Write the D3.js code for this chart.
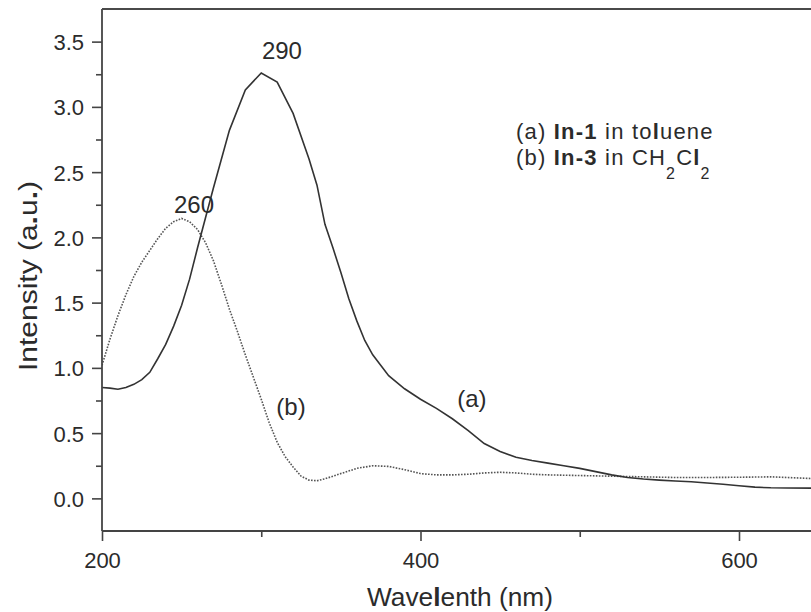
<!DOCTYPE html>
<html><head><meta charset="utf-8">
<script src="https://cdn.jsdelivr.net/npm/d3@7"></script>
<style>
body{margin:0;background:#fff;}
svg{display:block;font-family:"Liberation Sans",Arial,Helvetica,sans-serif;}
</style>
</head><body><svg id="c" width="811" height="612"></svg>
<script>
// ---- data ----
const wavelengthA = [200,205,210,215,220,225,230,235,240,245,250,255,260,265,270,280,290,300,310,320,330,335,340,345,350,355,360,365,370,375,380,390,400,410,420,430,440,450,460,470,480,490,500,510,520,530,540,550,560,570,580,590,600,610,620,630,650];
const intensityA  = [0.85,0.845,0.836,0.85,0.874,0.91,0.966,1.07,1.18,1.32,1.48,1.68,1.92,2.15,2.38,2.82,3.13,3.26,3.19,2.95,2.6,2.4,2.1,1.92,1.73,1.53,1.36,1.21,1.1,1.02,0.94,0.84,0.76,0.69,0.61,0.52,0.42,0.36,0.315,0.29,0.27,0.25,0.23,0.205,0.18,0.16,0.148,0.14,0.133,0.127,0.118,0.108,0.097,0.086,0.081,0.08,0.078];
const wavelengthB = [200,205,210,215,220,225,230,235,240,245,250,255,260,265,270,275,280,285,290,295,300,305,310,315,320,325,330,335,340,350,360,370,380,390,400,410,420,430,440,450,460,470,480,500,520,540,560,580,600,620,640,650];
const intensityB  = [1.02,1.22,1.4,1.56,1.7,1.81,1.9,1.99,2.07,2.12,2.145,2.12,2.06,1.96,1.82,1.64,1.45,1.28,1.1,0.93,0.76,0.58,0.43,0.32,0.24,0.17,0.14,0.135,0.15,0.19,0.23,0.25,0.245,0.22,0.19,0.18,0.18,0.185,0.195,0.2,0.195,0.185,0.18,0.175,0.17,0.165,0.16,0.16,0.162,0.165,0.155,0.15];
const xMajorTicks = [200,400,600];
const xMinorTicks = [300,500];
const yMajorTicks = [0,0.5,1.0,1.5,2.0,2.5,3.0,3.5];
const yMinorTicks = [0.25,0.75,1.25,1.75,2.25,2.75,3.25];
const peakLabels = ["290","260"];
const curveLabels = ["(a)","(b)"];

// ---- layout ----
const svg = d3.select("#c");
const plotLeft = 102, plotTop = 9, plotBottom = 531;
const x = d3.scaleLinear().domain([200,650]).range([plotLeft, plotLeft + 450*1.5925]);
const y = d3.scaleLinear().domain([-0.25,3.75]).range([plotBottom, plotTop]);
const ink = "#2b2b2b";

const seriesA = wavelengthA.map((w,i)=>({w, v:intensityA[i]}));
const seriesB = wavelengthB.map((w,i)=>({w, v:intensityB[i]}));
const line = d3.line().x(d=>x(d.w)).y(d=>y(d.v)).curve(d3.curveLinear);

svg.append("defs").append("clipPath").attr("id","clip")
  .append("rect").attr("x",plotLeft).attr("y",plotTop).attr("width",811-plotLeft).attr("height",plotBottom-plotTop);

// curves
svg.append("path").datum(seriesB).attr("d",line).attr("clip-path","url(#clip)")
  .attr("fill","none").attr("stroke","#555").attr("stroke-width",1.6)
  .attr("stroke-dasharray","1.6,1.4");
svg.append("path").datum(seriesA).attr("d",line).attr("clip-path","url(#clip)")
  .attr("fill","none").attr("stroke","#333").attr("stroke-width",1.6);

// axes
const yAxis = d3.axisLeft(y).tickValues(yMajorTicks).tickSize(10).tickFormat(d3.format(".1f")).tickPadding(8);
const gy = svg.append("g").attr("transform",`translate(${plotLeft},0)`).call(yAxis);
const yAxisMinor = d3.axisLeft(y).tickValues(yMinorTicks).tickSize(6).tickFormat("");
const gym = svg.append("g").attr("transform",`translate(${plotLeft},0)`).call(yAxisMinor);
const xAxis = d3.axisBottom(x).tickValues(xMajorTicks).tickSize(10).tickFormat(d3.format("d")).tickPadding(10);
const gx = svg.append("g").attr("transform",`translate(0,${plotBottom})`).call(xAxis);
const xAxisMinor = d3.axisBottom(x).tickValues(xMinorTicks).tickSize(6).tickFormat("");
const gxm = svg.append("g").attr("transform",`translate(0,${plotBottom})`).call(xAxisMinor);
[gy,gym,gx,gxm].forEach(g=>{
  g.select(".domain").remove();
  g.selectAll(".tick line").attr("stroke","#444").attr("stroke-width",1.6);
  g.selectAll(".tick text").attr("fill",ink).attr("font-size",22)
    .attr("font-family","'Liberation Sans',Arial,sans-serif");
});
gy.selectAll(".tick text").attr("dy","0.36em");
gx.selectAll(".tick text").attr("dy","0.75em");

// frame lines
svg.append("line").attr("x1",plotLeft).attr("x2",811).attr("y1",plotBottom).attr("y2",plotBottom)
  .attr("stroke","#444").attr("stroke-width",1.8);
svg.append("line").attr("x1",plotLeft).attr("x2",plotLeft).attr("y1",plotTop).attr("y2",plotBottom)
  .attr("stroke","#444").attr("stroke-width",1.8);
svg.append("line").attr("x1",plotLeft).attr("x2",811).attr("y1",plotTop).attr("y2",plotTop)
  .attr("stroke","#4a4a4a").attr("stroke-width",2.2);

// axis titles
const xt = svg.append("text").attr("x",460).attr("y",606).attr("text-anchor","middle")
  .attr("font-size",26).attr("fill",ink).attr("textLength",186).attr("lengthAdjust","spacingAndGlyphs");
xt.append("tspan").text("Wave");
xt.append("tspan").attr("font-weight","bold").text("l");
xt.append("tspan").text("enth (nm)");

const yt = svg.append("text").attr("transform","translate(37,276) rotate(-90)").attr("text-anchor","middle")
  .attr("font-size",26).attr("fill",ink).attr("textLength",190).attr("lengthAdjust","spacingAndGlyphs");
yt.append("tspan").text("Intensity (a");
yt.append("tspan").attr("font-weight","bold").text(".");
yt.append("tspan").text("u");
yt.append("tspan").attr("font-weight","bold").text(".");
yt.append("tspan").text(")");

// peak labels
svg.append("text").attr("x",x(313)).attr("y",y(3.37)).attr("text-anchor","middle")
  .attr("font-size",24).attr("fill",ink).text(peakLabels[0]);
svg.append("text").attr("x",x(257.8)).attr("y",y(2.185)).attr("text-anchor","middle")
  .attr("font-size",24).attr("fill",ink).text(peakLabels[1]);
// curve labels
svg.append("text").attr("x",x(432.3)).attr("y",y(0.70)).attr("text-anchor","middle")
  .attr("font-size",24).attr("fill",ink).text(curveLabels[0]);
svg.append("text").attr("x",x(318.7)).attr("y",y(0.637)).attr("text-anchor","middle")
  .attr("font-size",24).attr("fill",ink).text(curveLabels[1]);

// legend text
const l1 = svg.append("text").attr("x",516).attr("y",139).attr("font-size",22).attr("fill",ink)
  .attr("letter-spacing","1.2px");
l1.append("tspan").text("(a) ");
l1.append("tspan").attr("font-weight","bold").text("In-1");
l1.append("tspan").text(" in to");
l1.append("tspan").attr("font-weight","bold").text("l");
l1.append("tspan").text("uene");

const l2 = svg.append("text").attr("x",516).attr("y",165).attr("font-size",22).attr("fill",ink)
  .attr("letter-spacing","1.2px");
l2.append("tspan").text("(b) ");
l2.append("tspan").attr("font-weight","bold").text("In-3");
l2.append("tspan").text(" in CH");
l2.append("tspan").attr("font-size",16).attr("dy",14).text("2");
l2.append("tspan").attr("dy",-14).text("C");
l2.append("tspan").attr("font-weight","bold").text("l");
l2.append("tspan").attr("font-size",16).attr("dy",14).text("2");
</script>
</body></html>
